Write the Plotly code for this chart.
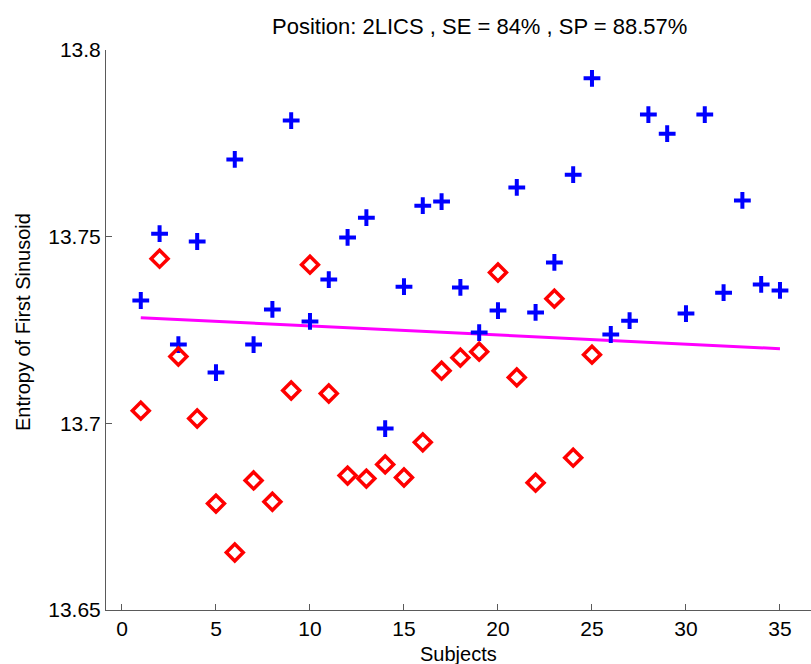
import plotly.graph_objects as go

subjects_pos = list(range(1, 36))
entropy_pos = [13.7329, 13.7508, 13.7211, 13.7487, 13.7136, 13.7707, 13.7211, 13.7305, 13.7811, 13.7273,
               13.7385, 13.7498, 13.7551, 13.6986, 13.7366, 13.7583, 13.7594, 13.7364, 13.7243, 13.7302,
               13.7632, 13.7297, 13.7431, 13.7666, 13.7924, 13.7238, 13.7275, 13.7827, 13.7776, 13.7294,
               13.7827, 13.7350, 13.7597, 13.7372, 13.7356]

subjects_neg = list(range(1, 26))
entropy_neg = [13.7034, 13.7441, 13.7179, 13.7013, 13.6785, 13.6654, 13.6847, 13.6790, 13.7088, 13.7425,
               13.7080, 13.6860, 13.6852, 13.6890, 13.6855, 13.6949, 13.7141, 13.7176, 13.7192, 13.7404,
               13.7123, 13.6841, 13.7334, 13.6908, 13.7184]

threshold_x = [1, 35]
threshold_y = [13.7283, 13.7200]

x_ticks = [0, 5, 10, 15, 20, 25, 30, 35]
y_ticks = [13.65, 13.7, 13.75, 13.8]
y_tick_text = ["13.65", "13.7", "13.75", "13.8"]

title_text = "Position: 2LICS , SE = 84% , SP = 88.57%"
x_title = "Subjects"
y_title = "Entropy of First Sinusoid"

W, H = 811, 664
L, R, T, B = 106, 0, 50, 54
pw, ph = W - L - R, H - T - B

fig = go.Figure()
fig.add_trace(go.Scatter(x=threshold_x, y=threshold_y, mode="lines",
                         line=dict(color="rgb(255,0,255)", width=3), hoverinfo="skip"))
fig.add_trace(go.Scatter(x=subjects_pos, y=entropy_pos, mode="markers",
                         marker=dict(symbol="cross-thin-open", size=12, color="rgb(0,0,255)",
                                     line=dict(color="rgb(0,0,255)", width=4)),
                         hoverinfo="skip"))
fig.add_trace(go.Scatter(x=subjects_neg, y=entropy_neg, mode="markers",
                         marker=dict(symbol="diamond-open", size=13, color="rgb(255,0,0)",
                                     line=dict(color="rgb(255,0,0)", width=3.5)),
                         hoverinfo="skip"))

font = "Liberation Sans, Arial, sans-serif"
axis_color = "#5a5a5a"
fig.update_layout(
    width=W, height=H,
    margin=dict(l=L, r=R, t=T, b=B, pad=0),
    paper_bgcolor="white", plot_bgcolor="white",
    showlegend=False,
    font=dict(family=font, color="black"),
    xaxis=dict(range=[-0.85, 36.65], tickvals=x_ticks, ticks="inside", ticklen=6,
               tickcolor=axis_color, tickwidth=1, showline=True, linecolor=axis_color,
               linewidth=1, showgrid=False, zeroline=False,
               tickfont=dict(size=21, family=font, color="black")),
    yaxis=dict(range=[13.65, 13.8], tickvals=y_ticks, ticktext=y_tick_text, ticks="inside",
               ticklen=6, tickcolor=axis_color, tickwidth=1, showline=True,
               linecolor=axis_color, linewidth=1, showgrid=False, zeroline=False,
               tickfont=dict(size=21, family=font, color="black")),
    annotations=[
        dict(text=title_text, xref="paper", yref="paper", x=(479 - L) / pw, y=(H - B - 27) / ph,
             xanchor="center", yanchor="middle", showarrow=False,
             font=dict(size=22, family=font, color="black")),
        dict(text=x_title, xref="paper", yref="paper", x=(458 - L) / pw, y=(H - B - 654) / ph,
             xanchor="center", yanchor="middle", showarrow=False,
             font=dict(size=20, family=font, color="black")),
        dict(text=y_title, xref="paper", yref="paper", x=(23 - L) / pw, y=(H - B - 322) / ph,
             xanchor="center", yanchor="middle", showarrow=False, textangle=-90,
             font=dict(size=20, family=font, color="black")),
    ],
)

fig.write_html("out.html")
